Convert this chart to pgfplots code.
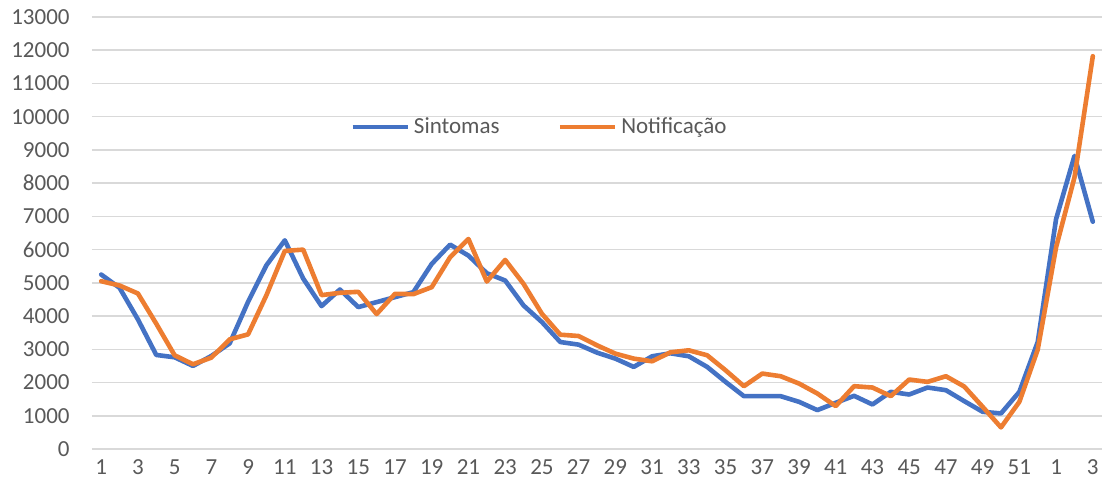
\documentclass[border=0pt]{standalone}
\usepackage{pgfplots}
\pgfplotsset{compat=1.18}
\usepackage{pgfplotstable}
\usepackage{fontspec}
\setmainfont{Carlito}
\definecolor{xblue}{HTML}{4472C4}
\definecolor{xorange}{HTML}{ED7D31}
\definecolor{xgrid}{HTML}{D9D9D9}
\definecolor{xtext}{HTML}{595959}
\pgfplotstableread{
i s n
1 5250 5050
2 4850 4920
3 3900 4680
4 2830 3770
5 2760 2820
6 2500 2550
7 2800 2750
8 3180 3300
9 4430 3450
10 5530 4630
11 6280 5960
12 5130 6000
13 4300 4630
14 4800 4700
15 4270 4730
16 4420 4060
17 4570 4670
18 4720 4660
19 5570 4870
20 6150 5770
21 5820 6320
22 5290 5040
23 5070 5690
24 4320 4970
25 3820 4070
26 3220 3440
27 3140 3400
28 2900 3120
29 2720 2870
30 2470 2720
31 2790 2640
32 2880 2910
33 2790 2970
34 2470 2820
35 2020 2370
36 1590 1890
37 1590 2270
38 1590 2190
39 1420 1970
40 1170 1670
41 1390 1290
42 1600 1890
43 1340 1850
44 1720 1590
45 1640 2090
46 1850 2020
47 1770 2190
48 1440 1880
49 1120 1270
50 1070 650
51 1720 1420
52 3220 2990
53 6920 6070
54 8820 8170
55 6840 11820
}\data
\begin{document}
\begin{tikzpicture}
\path[use as bounding box] (0,0) rectangle (551pt,246.5pt);
\begin{axis}[
  at={(46pt,22pt)}, anchor=south west,
  scale only axis, width=505pt, height=216pt,
  xmin=0.5, xmax=55.5, ymin=0, ymax=13000,
  xtick={1,3,...,55},
  xticklabels={1,3,5,7,9,11,13,15,17,19,21,23,25,27,29,31,33,35,37,39,41,43,45,47,49,51,1,3},
  ytick={0,1000,...,13000},
  ymajorgrids, major grid style={xgrid, line width=0.75pt},
  axis line style={draw=none},
  major tick length=0pt,
  scaled y ticks=false,
  /pgf/number format/set thousands separator={},
  /pgf/number format/assume math mode=true,
  tick label style={font=\fontsize{11.5}{13}\selectfont, text=xtext},
  yticklabel style={inner sep=0pt, anchor=east, xshift=-11pt},
  xticklabel style={inner sep=0pt, anchor=north, yshift=-5pt},
  legend columns=2,
  legend style={draw=none, fill=none, at={(0.2554,0.745)}, anchor=west, inner sep=0pt,
    font=\fontsize{11.5}{13}\selectfont, text=xtext,
    /tikz/every even column/.append style={column sep=27pt}},
  legend image code/.code={\draw[#1, line cap=butt] (0pt,0pt) -- (27.5pt,0pt);},
  every axis plot/.append style={line width=2.3pt, line join=round, line cap=round, mark=none},
]
\addplot[xblue] table[x=i, y=s] {\data};
\addlegendentry{Sintomas}
\addplot[xorange] table[x=i, y=n] {\data};
\addlegendentry{Notificação}
\end{axis}
\end{tikzpicture}
\end{document}
